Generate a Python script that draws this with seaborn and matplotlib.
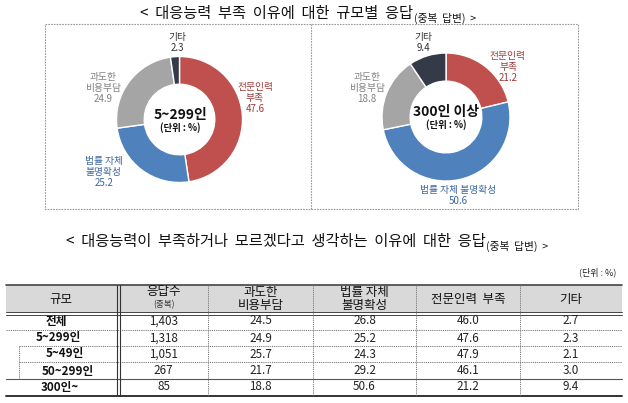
import matplotlib
matplotlib.use("Agg")
import matplotlib.pyplot as plt
import seaborn as sns

sns.set_theme(style="white")
plt.rcParams['font.family'] = ['Noto Sans CJK KR', 'DejaVu Sans']

# ---- data ----
sizes = ['전체', '5~299인', '5~49인', '50~299인', '300인~']
responses = [1403, 1318, 1051, 267, 85]
cost = [24.5, 24.9, 25.7, 21.7, 18.8]
law = [26.8, 25.2, 24.3, 29.2, 50.6]
expert = [46.0, 47.6, 47.9, 46.1, 21.2]
other = [2.7, 2.3, 2.1, 3.0, 9.4]

reasons = ['전문인력\n부족', '법률 자체\n불명확성', '과도한\n비용부담', '기타']
donut_small = [expert[1], law[1], cost[1], other[1]]
donut_large = [expert[4], law[4], cost[4], other[4]]

W, H = 628, 403
fig = plt.figure(figsize=(W / 100, H / 100), dpi=100)
fig.patch.set_facecolor('white')

# overlay axes in pixel coordinates
ov = fig.add_axes([0, 0, 1, 1])
ov.set_xlim(0, W)
ov.set_ylim(H, 0)
ov.axis('off')

wedge_cols = ['#C0504D', '#4F81BD', '#A5A5A5', '#343A48']
label_cols = ['#9B3A38', '#3A66A0', '#808080', '#333333']


def title(x, y, main, sub, fs):
    t = ov.text(x, y, main, fontsize=fs, ha='left', va='baseline', color='#111111', fontweight='medium')
    ov.annotate(sub, xy=(1, 0), xycoords=t, xytext=(0.5, 0), textcoords='offset points',
                fontsize=fs * 0.7, ha='left', va='baseline', color='#111111')


# titles
title(140, 18, '<  대응능력  부족  이유에  대한  규모별  응답', '(중복  답변)  >', 11)

# dashed box
ov.plot([45, 578, 578, 45, 45], [24, 24, 209, 209, 24], ls=(0, (1.5, 1.0)), color='#9A9A9A', lw=0.8)
ov.plot([311, 311], [24, 209], ls=(0, (1.5, 1.0)), color='#9A9A9A', lw=0.8)


def donut(cx, cy, r, vals):
    R = 100
    ax = fig.add_axes([(cx - R) / W, 1 - (cy + R) / H, 2 * R / W, 2 * R / H])
    lim = R / r
    ax.pie(vals, colors=wedge_cols, startangle=90, counterclock=False, radius=1,
           wedgeprops=dict(width=0.44, edgecolor='white', linewidth=1.0))
    ax.set_xlim(-lim, lim)
    ax.set_ylim(-lim, lim)
    ax.set_aspect('equal')
    ax.axis('off')
    ax.patch.set_alpha(0)
    return ax


donut(179.5, 119.5, 63, donut_small)
donut(446, 117, 64, donut_large)


def lab(x, y, name, val, i, one_line=False):
    txt = (name.replace('\n', ' ') if one_line else name) + '\n' + f'{val:.1f}'
    ov.text(x, y, txt, fontsize=7, ha='center', va='top', color=label_cols[i],
            linespacing=1.12, fontweight='medium')


# left donut labels
lab(255, 82, reasons[0], donut_small[0], 0)
lab(104, 156, reasons[1], donut_small[1], 1)
lab(103, 72, reasons[2], donut_small[2], 2)
lab(177, 32, reasons[3], donut_small[3], 3)
# right donut labels
lab(508, 51, reasons[0], donut_large[0], 0)
lab(458, 185, reasons[1], donut_large[1], 1, one_line=True)
lab(367, 72, reasons[2], donut_large[2], 2)
lab(423, 32, reasons[3], donut_large[3], 3)

# center texts
ov.text(180, 115, '5~299인', fontsize=10, fontweight='bold', ha='center', va='center', color='#111111')
ov.text(180, 128, '(단위 : %)', fontsize=6.8, fontweight='bold', ha='center', va='center', color='#111111')
ov.text(446, 112, '300인 이상', fontsize=10, fontweight='bold', ha='center', va='center', color='#111111')
ov.text(446, 125, '(단위 : %)', fontsize=6.8, fontweight='bold', ha='center', va='center', color='#111111')

# second title
title(66, 246, '<  대응능력이  부족하거나  모르겠다고  생각하는  이유에  대한  응답', '(중복  답변)  >', 11)
ov.text(616, 272, '(단위 : %)', fontsize=6.5, ha='right', va='center', color='#222222')

# ---- table ----
L, R_ = 6, 622
top, hb = 285, 313
ov.fill_between([L, R_], top, hb, color='#D9D9D9', lw=0)
ov.plot([L, R_], [top, top], color='#444444', lw=1.2)
ov.plot([L, R_], [hb - 1, hb - 1], color='#444444', lw=0.7)
ov.plot([L, R_], [hb + 1.5, hb + 1.5], color='#444444', lw=0.7)
dot = (0, (1.2, 1.0))
ov.plot([L, R_], [330, 330], color='#777777', lw=0.7, ls=dot)
ov.plot([19, R_], [346, 346], color='#777777', lw=0.7, ls=dot)
ov.plot([19, R_], [362, 362], color='#777777', lw=0.7, ls=dot)
ov.plot([L, R_], [379, 379], color='#555555', lw=0.8)
ov.plot([L, R_], [396, 396], color='#333333', lw=1.4)
ov.plot([19, 19], [346, 379], color='#777777', lw=0.7, ls=dot)
ov.plot([116.5, 116.5], [top, 396], color='#333333', lw=0.8)
ov.plot([119.5, 119.5], [top, 396], color='#333333', lw=0.8)
for xv in [208, 313, 416, 520]:
    ov.plot([xv, xv], [top, 396], color='#777777', lw=0.7, ls=dot)

col_x = [61, 163.5, 260.5, 364.5, 468, 571]
hfs = 9
ov.text(col_x[0], 299, '규모', fontsize=hfs, ha='center', va='center', color='#111111', fontweight='medium')
ov.text(col_x[1], 292, '응답수', fontsize=hfs, ha='center', va='center', color='#111111', fontweight='medium')
ov.text(col_x[1], 305, '(중복)', fontsize=6.2, ha='center', va='center', color='#333333')
ov.text(col_x[2], 299, '과도한\n비용부담', fontsize=hfs, ha='center', va='center', color='#111111',
        linespacing=0.95, fontweight='medium')
ov.text(col_x[3], 299, '법률 자체\n불명확성', fontsize=hfs, ha='center', va='center', color='#111111',
        linespacing=0.95, fontweight='medium')
ov.text(col_x[4], 299, '전문인력  부족', fontsize=hfs, ha='center', va='center', color='#111111', fontweight='medium')
ov.text(col_x[5], 299, '기타', fontsize=hfs, ha='center', va='center', color='#111111', fontweight='medium')

row_y = [321, 338, 354, 371, 387]
label_x = [56, 58, 65, 68, 60]
bfs = 8.4
for i in range(len(sizes)):
    y = row_y[i]
    ov.text(label_x[i], y, sizes[i], fontsize=bfs, fontweight='bold', ha='center', va='center', color='#111111')
    vals = [f'{responses[i]:,}', f'{cost[i]:.1f}', f'{law[i]:.1f}', f'{expert[i]:.1f}', f'{other[i]:.1f}']
    for j, v in enumerate(vals):
        ov.text(col_x[j + 1], y, v, fontsize=bfs, ha='center', va='center', color='#222222')

fig.savefig('out.png', dpi=100)
